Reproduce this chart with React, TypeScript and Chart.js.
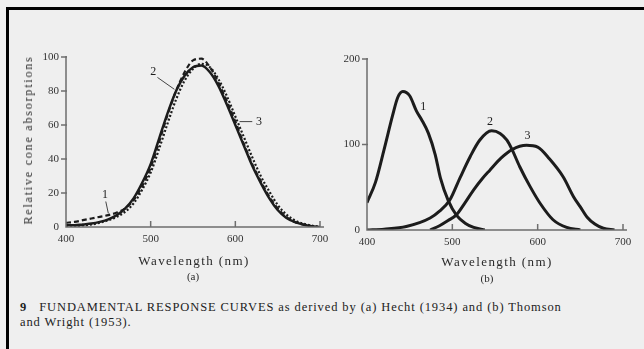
import React, { useEffect, useRef } from "react";
import { Chart, registerables } from "chart.js";

Chart.register(...registerables);

// ---------- (a) Hecht (1934) ----------
const hechtWavelengths = [400, 410, 420, 430, 440, 450, 460, 470, 480, 490, 500, 510, 520, 530, 540, 550, 560, 570, 580, 590, 600, 610, 620, 630, 640, 650, 660, 670, 680, 690, 700];
const hechtCurve1 = [2.5, 3, 4, 5, 6, 7, 8.5, 11, 16, 24, 35, 50, 66, 80, 91, 98, 99, 94, 85, 74, 62, 49, 37, 27, 18, 11, 6, 3, 1.5, 0.5, 0];
const hechtCurve2 = [1, 1, 1.5, 2, 3, 4.5, 7, 11, 17, 26, 37, 52, 67, 80, 89, 94, 95, 91, 83, 72, 60, 48, 36, 26, 17, 10, 5.5, 3, 1.5, 0.5, 0];
const hechtCurve3 = [0.5, 0.5, 1, 1.5, 2.5, 4, 6, 9, 14, 22, 32, 46, 61, 75, 86, 93, 96, 94, 87, 77, 65, 53, 41, 30, 21, 13, 7.5, 4, 2, 0.8, 0];

// ---------- (b) Thomson and Wright (1953) ----------
const twWavelengths1 = [400, 410, 420, 430, 436, 442, 450, 458, 464, 472, 480, 486, 495, 505, 515, 525, 538];
const twCurve1 = [32, 56, 94, 134, 155, 162, 157, 139, 129, 113, 88, 61, 35, 17, 8, 3, 0];
const twWavelengths2 = [400, 420, 446, 474, 485, 497, 509, 521, 532, 546, 556, 564, 570, 579, 591, 603, 618, 634, 650];
const twCurve2 = [0, 1, 4, 14, 22, 35, 61, 86, 105, 116, 113, 105, 94, 74, 51, 31, 12, 3, 0];
const twWavelengths3 = [474, 485, 495, 505, 515, 525, 535, 544, 557, 570, 587, 600, 614, 630, 642, 650, 658, 667, 677, 690];
const twCurve3 = [0, 5, 11, 18, 32, 47, 60, 70, 84, 94, 99, 97, 83, 62, 39, 27, 15, 7, 2, 0];

// ---------- tick labels ----------
const wavelengthTicks = [400, 500, 600, 700];
const hechtYTicks = [0, 20, 40, 60, 80, 100];
const twYTicks = [0, 100, 200];

// ---------- curve number labels (data coords) ----------
const hechtLabels = [
  { text: "1", x: 446, y: 19, leader: [447, 15, 450, 8] },
  { text: "2", x: 503, y: 91, leader: [508, 88, 528, 81] },
  { text: "3", x: 628, y: 62, leader: [605, 62, 620, 62] },
];
const twLabels = [
  { text: "1", x: 466, y: 144 },
  { text: "2", x: 544, y: 127 },
  { text: "3", x: 588, y: 110 },
];

const SERIF = '"Liberation Serif", "Times New Roman", serif';
const INK = "#1c1c1c";
const AXIS = "#6e6e6e";

const toPoints = (xs: number[], ys: number[]) => xs.map((x, i) => ({ x, y: ys[i] }));

const scanAxes = {
  id: "scanAxes",
  afterDraw(chart: any) {
    const opts = chart.options.plugins.scanAxes || {};
    const { ctx } = chart;
    const xs = chart.scales.x;
    const ys = chart.scales.y;
    ctx.save();
    ctx.strokeStyle = AXIS;
    ctx.lineWidth = 1.5;
    const y0 = ys.getPixelForValue(ys.min);
    const x0 = xs.getPixelForValue(xs.min);
    ctx.beginPath();
    ctx.moveTo(x0, ys.getPixelForValue(ys.max) - 1);
    ctx.lineTo(x0, y0);
    ctx.lineTo(xs.getPixelForValue(xs.max) + 4, y0);
    ctx.stroke();
    (opts.xTicks || []).forEach((v: number) => {
      if (v === xs.min) return;
      const px = xs.getPixelForValue(v);
      ctx.beginPath();
      ctx.moveTo(px, y0);
      ctx.lineTo(px, y0 - 6);
      ctx.stroke();
    });
    (opts.yTicks || []).forEach((v: number) => {
      if (v === ys.min) return;
      const py = ys.getPixelForValue(v);
      ctx.beginPath();
      ctx.moveTo(x0 - 5, py);
      ctx.lineTo(x0 + 1, py);
      ctx.stroke();
    });
    ctx.fillStyle = INK;
    ctx.strokeStyle = "#444";
    ctx.lineWidth = 1;
    ctx.font = `12px ${SERIF}`;
    ctx.textAlign = "center";
    ctx.textBaseline = "middle";
    (opts.labels || []).forEach((l: any) => {
      ctx.fillText(l.text, xs.getPixelForValue(l.x), ys.getPixelForValue(l.y));
      if (l.leader) {
        ctx.beginPath();
        ctx.moveTo(xs.getPixelForValue(l.leader[0]), ys.getPixelForValue(l.leader[1]));
        ctx.lineTo(xs.getPixelForValue(l.leader[2]), ys.getPixelForValue(l.leader[3]));
        ctx.stroke();
      }
    });
    ctx.restore();
  },
};

function makeConfig(
  datasets: any[],
  yMax: number,
  xTickVals: number[],
  yTickVals: number[],
  labels: any[],
  yAxisWidth: number,
  xAxisHeight: number,
  padding: any
): any {
  const tickFont = { family: SERIF, size: 11 };
  return {
    type: "line",
    data: { datasets },
    plugins: [scanAxes],
    options: {
      animation: false,
      responsive: false,
      layout: { padding },
      elements: { point: { radius: 0 } },
      plugins: {
        legend: { display: false },
        tooltip: { enabled: false },
        scanAxes: { xTicks: xTickVals, yTicks: yTickVals, labels },
      },
      scales: {
        x: {
          type: "linear",
          min: 400,
          max: 700,
          afterBuildTicks: (s: any) => {
            s.ticks = xTickVals.map((v) => ({ value: v }));
          },
          afterFit: (s: any) => {
            s.height = xAxisHeight;
          },
          grid: { display: false, drawTicks: false },
          border: { display: false },
          ticks: { font: tickFont, color: "#333", padding: 6, maxRotation: 0, autoSkip: false },
        },
        y: {
          type: "linear",
          min: 0,
          max: yMax,
          afterBuildTicks: (s: any) => {
            s.ticks = yTickVals.map((v) => ({ value: v }));
          },
          afterFit: (s: any) => {
            s.width = yAxisWidth;
          },
          grid: { display: false, drawTicks: false },
          border: { display: false },
          ticks: { font: tickFont, color: "#333", padding: 7, autoSkip: false },
        },
      },
    },
  };
}

const lineStyle = (dash: number[], width: number) => ({
  borderColor: INK,
  borderWidth: width,
  borderDash: dash,
  fill: false,
  cubicInterpolationMode: "monotone",
  pointRadius: 0,
});

export default function App() {
  const refA = useRef<HTMLCanvasElement | null>(null);
  const refB = useRef<HTMLCanvasElement | null>(null);

  useEffect(() => {
    document.body.style.margin = "0";
    const chartA = new Chart(
      refA.current as HTMLCanvasElement,
      makeConfig(
        [
          { data: toPoints(hechtWavelengths, hechtCurve1), ...lineStyle([5, 3], 2.2) },
          { data: toPoints(hechtWavelengths, hechtCurve2), ...lineStyle([], 2.5) },
          { data: toPoints(hechtWavelengths, hechtCurve3), ...lineStyle([2, 2], 2.2) },
        ],
        100,
        wavelengthTicks,
        hechtYTicks,
        hechtLabels,
        66,
        73,
        { top: 57, right: 20, left: 0, bottom: 0 }
      )
    );
    const chartB = new Chart(
      refB.current as HTMLCanvasElement,
      makeConfig(
        [
          { data: toPoints(twWavelengths1, twCurve1), ...lineStyle([], 3) },
          { data: toPoints(twWavelengths2, twCurve2), ...lineStyle([], 3) },
          { data: toPoints(twWavelengths3, twCurve3), ...lineStyle([], 3) },
        ],
        200,
        wavelengthTicks,
        twYTicks,
        twLabels,
        27,
        70,
        { top: 59, right: 21, left: 0, bottom: 0 }
      )
    );
    return () => {
      chartA.destroy();
      chartB.destroy();
    };
  }, []);

  const text = (extra: React.CSSProperties): React.CSSProperties => ({
    position: "absolute",
    fontFamily: SERIF,
    color: "#2a2a2a",
    whiteSpace: "nowrap",
    lineHeight: 1,
    ...extra,
  });

  return (
    <div style={{ position: "absolute", left: 0, top: 0, width: 644, height: 349, background: "#efefef", overflow: "hidden" }}>
      <div style={{ position: "absolute", left: 6, top: 7, width: 638, height: 342, borderTop: "3px solid #000", borderLeft: "3px solid #000", boxSizing: "border-box" }} />
      <canvas ref={refA} width={340} height={300} style={{ position: "absolute", left: 0, top: 0 }} />
      <canvas ref={refB} width={304} height={300} style={{ position: "absolute", left: 340, top: 0 }} />
      <div style={text({ left: 28, top: 140, fontSize: 12, letterSpacing: 1.8, transform: "translate(-50%, -50%) rotate(-90deg)" })}>Relative cone absorptions</div>
      <div style={text({ left: 194, top: 260, fontSize: 13, letterSpacing: 1.4, transform: "translate(-50%, -50%)" })}>Wavelength (nm)</div>
      <div style={text({ left: 497, top: 261, fontSize: 13, letterSpacing: 1.4, transform: "translate(-50%, -50%)" })}>Wavelength (nm)</div>
      <div style={text({ left: 193, top: 276, fontSize: 11, transform: "translate(-50%, -50%)" })}>(a)</div>
      <div style={text({ left: 487, top: 278, fontSize: 11, transform: "translate(-50%, -50%)" })}>(b)</div>
      <div style={text({ left: 20, top: 300, fontSize: 12.5, letterSpacing: 0.9, lineHeight: "15px", color: "#222" })}>
        <b>9</b>&nbsp;&nbsp;&nbsp;FUNDAMENTAL RESPONSE CURVES as derived by (a) Hecht (1934) and (b) Thomson
        <br />
        and Wright (1953).
      </div>
    </div>
  );
}
